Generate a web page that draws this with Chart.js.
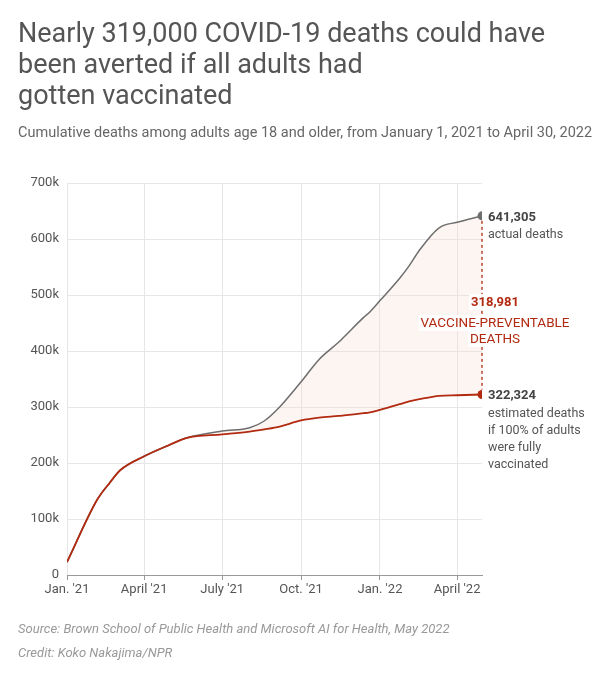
<!DOCTYPE html>
<html><head><meta charset="utf-8">
<script src="https://cdn.jsdelivr.net/npm/chart.js@4/dist/chart.umd.min.js"></script>
<style>body{margin:0;background:#fff;font-family:Roboto,sans-serif;}#w{position:relative;width:603px;height:680px}
canvas{position:absolute;left:0;top:0}</style></head><body><div id="w"><canvas id="c" width="603" height="680"></canvas></div>
<script>
const days = [0,35,50,62,90,119,140,181,213,230,248,273,294,317,323,346,352,365,388,399,411,434,455,484];
const actual = [23000,134000,165000,187000,212000,232000,245000,257000,263000,275000,300000,345000,385000,416000,425000,460000,468000,490000,530000,552000,580000,620000,630000,641305];
const estimated = [23000,134000,165000,187000,212000,232000,245000,251000,256000,260000,265000,276000,281000,284000,285000,289000,290000,295000,305000,310000,314000,320000,321000,322324];
const xTickDays = [0,90,181,273,365,455];
const xTickLabels = ["Jan. '21","April '21","July '21","Oct. '21","Jan. '22","April '22"];
const yTicks = [0,100000,200000,300000,400000,500000,600000,700000];
const toPts = a => a.map((v,i)=>({x:days[i],y:v}));
const last = days.length-1;
const grayC='#6e6e6e', redC='#b22a10';
const textPlugin={id:'txt',afterDraw(ch){
 const c=ch.ctx,x=ch.scales.x,y=ch.scales.y;
 c.save();c.textBaseline='alphabetic';c.textAlign='left';
 c.fillStyle='#555';c.font='27px Roboto';
 c.fillText('Nearly 319,000 COVID-19 deaths could have',18,42);
 c.fillText('been averted if all adults had',18,73);
 c.fillText('gotten vaccinated',18,104);
 c.font='14.5px Roboto';c.fillStyle='#666';
 c.fillText('Cumulative deaths among adults age 18 and older, from January 1, 2021 to April 30, 2022',18,137);
 c.font='italic 13px Roboto';c.fillStyle='#999';
 c.fillText('Source: Brown School of Public Health and Microsoft AI for Health, May 2022',18,633);
 c.fillText('Credit: Koko Nakajima/NPR',18,657);
 const px=x.getPixelForValue(484),ya=y.getPixelForValue(641305),ye=y.getPixelForValue(322324);
 c.strokeStyle=redC;c.setLineDash([3,3]);c.lineWidth=1.3;c.beginPath();c.moveTo(px,ya+5);c.lineTo(px,ye-5);c.stroke();c.setLineDash([]);
 c.textAlign='center';
 const lines=[['bold 13px Roboto','318,981',306],['13.5px Roboto','VACCINE-PREVENTABLE',327],['13.5px Roboto','DEATHS',343]];
 lines.forEach(([f,t,yy])=>{c.font=f;const w=c.measureText(t).width;c.fillStyle='rgba(255,255,255,0.95)';c.fillRect(495-w/2-2,yy-12,w+4,16);});
 c.fillStyle=redC;lines.forEach(([f,t,yy])=>{c.font=f;c.fillText(t,495,yy);});
 c.textAlign='left';c.fillStyle='#444';c.font='bold 13px Roboto';
 c.fillText('641,305',488,ya+5);c.fillText('322,324',488,ye+5);
 c.font='12.5px Roboto';c.fillStyle='#555';
 c.fillText('actual deaths',488,ya+22);
 ['estimated deaths','if 100% of adults','were fully','vaccinated'].forEach((t,i)=>c.fillText(t,488,ye+23+i*17));
 c.restore();}};
new Chart(document.getElementById('c'),{type:'line',
 data:{datasets:[
  {order:2,data:toPts(actual),borderColor:grayC,borderWidth:1.5,fill:'1',backgroundColor:'rgba(246,222,210,0.3)',cubicInterpolationMode:'monotone',
   pointRadius:c=>c.dataIndex===last?4.5:0,pointBackgroundColor:grayC,pointBorderWidth:0},
  {order:1,data:toPts(estimated),borderColor:redC,borderWidth:1.8,fill:false,cubicInterpolationMode:'monotone',
   pointRadius:c=>c.dataIndex===last?4.5:0,pointBackgroundColor:redC,pointBorderWidth:0}]},
 options:{responsive:false,animation:false,events:[],
  layout:{padding:{left:0,top:183,right:121,bottom:75}},
  plugins:{legend:{display:false},tooltip:{enabled:false}},
  scales:{
   x:{type:'linear',min:0,max:484,afterFit:s=>{s.height=30;},
    afterBuildTicks:s=>{s.ticks=xTickDays.map(v=>({value:v}));},
    ticks:{autoSkip:false,maxRotation:0,color:'#555',font:{family:'Roboto',size:13},padding:2,callback:(v)=>xTickLabels[xTickDays.indexOf(v)]},
    grid:{color:'#e6e6e6',tickLength:5,tickColor:'#999'},border:{color:'#999'}},
   y:{min:0,max:700000,afterFit:s=>{s.width=67;},
    afterBuildTicks:s=>{s.ticks=yTicks.map(v=>({value:v}));},
    ticks:{color:'#555',font:{family:'Roboto',size:13},padding:8,callback:v=>v===0?'0':(v/1000)+'k'},
    grid:{color:'#e6e6e6',drawTicks:false},border:{display:false}}}},
 plugins:[textPlugin]});
</script></body></html>
